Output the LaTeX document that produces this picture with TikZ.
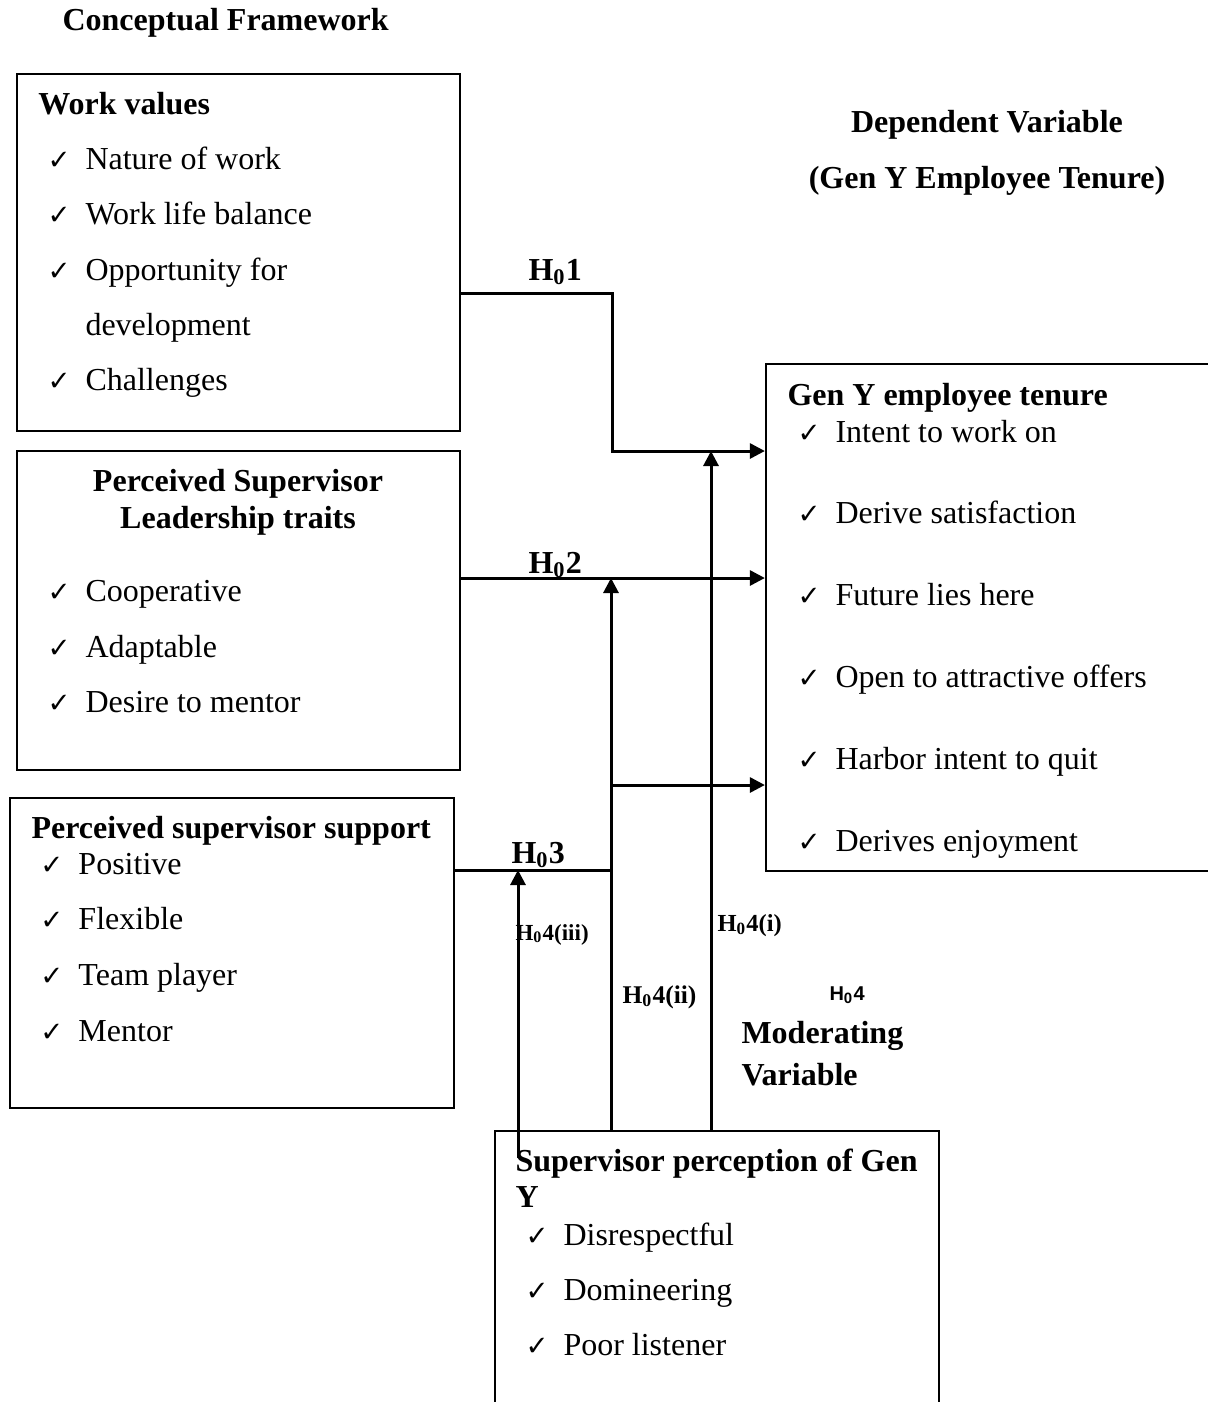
\documentclass[tikz,border=0pt]{standalone}
\usepackage{fontspec}
\setmainfont{Liberation Serif}
\newfontfamily\symfont{DejaVu Sans}
\newfontfamily\arialfont{Liberation Sans}
\usetikzlibrary{arrows.meta,positioning,fit}
\newcommand{\chk}{{\symfont\fontsize{11}{11}\selectfont ✓}}
\newcommand{\chkitem}[1]{\makebox[15.2pt][l]{\chk}#1}
\newcommand{\Hnull}[1]{H\textsubscript{0}#1}
\tikzset{
  box/.style={draw, line width=0.9pt, inner sep=0pt},
  txt/.style={anchor=base west, inner sep=0pt, font=\fontsize{12.8}{14}\selectfont},
  btxt/.style={txt, font=\fontsize{12.8}{14}\selectfont\bfseries},
  hsmall/.style={txt, font=\fontsize{10.2}{12}\selectfont\bfseries},
  arr/.style={line width=1.2pt, -{Triangle[length=6pt,width=6pt]}}
}
\begin{document}
\begin{tikzpicture}[x=0.4pt,y=-0.4pt]
  \useasboundingbox (0,0) rectangle (1208,1402);
%%
  \node[btxt] (title) at (62,30) {Conceptual Framework};
  \node[btxt, anchor=base] (dv1) at (987,132) {Dependent Variable};
  \node[btxt, anchor=base] (dv2) at (987,188) {(Gen Y Employee Tenure)};
  % Node: wv
  \node[box, fit={(17,74) (460,431)}] (wv) {};
  \node[btxt] (wvt) at (38,114) {Work values};
  \node[txt] (wv1) at (47,169) {\chkitem{Nature of work}};
  \node[txt] (wv2) at (47,224) {\chkitem{Work life balance}};
  \node[txt] (wv3) at (47,280) {\chkitem{Opportunity for}};
  \node[txt] (wv3b) at (85,335) {development};
  \node[txt] (wv4) at (47,390) {\chkitem{Challenges}};
  % Node: lt
  \node[box, fit={(17,451) (460,770)}] (lt) {};
  \node[btxt, anchor=base] (ltt) at (238,491) {Perceived Supervisor};
  \node[btxt, anchor=base] (ltt2) at (238,528) {Leadership traits};
  \node[txt] (lt1) at (47,601) {\chkitem{Cooperative}};
  \node[txt] (lt2) at (47,657) {\chkitem{Adaptable}};
  \node[txt] (lt3) at (47,712) {\chkitem{Desire to mentor}};
  % Node: ss
  \node[box, fit={(10,798) (454,1108)}] (ss) {};
  \node[btxt] (sst) at (31,838) {Perceived supervisor support};
  \node[txt] (ss1) at (40,874) {\chkitem{Positive}};
  \node[txt] (ss2) at (40,929) {\chkitem{Flexible}};
  \node[txt] (ss3) at (40,985) {\chkitem{Team player}};
  \node[txt] (ss4) at (40,1041) {\chkitem{Mentor}};
  % Node: tn
  \node[box, fit={(766,364) (1225,871)}] (tn) {};
  \node[btxt] (tnt) at (787,405) {Gen Y employee tenure};
  \node[txt] (tn1) at (797,442) {\chkitem{Intent to work on}};
  \node[txt] (tn2) at (797,523) {\chkitem{Derive satisfaction}};
  \node[txt] (tn3) at (797,605) {\chkitem{Future lies here}};
  \node[txt] (tn4) at (797,687) {\chkitem{Open to attractive offers}};
  \node[txt] (tn5) at (797,769) {\chkitem{Harbor intent to quit}};
  \node[txt] (tn6) at (797,851) {\chkitem{Derives enjoyment}};
  % Node: sp
  \node[box, fit={(495,1131) (939,1420)}] (sp) {};
  \node[btxt] (spt) at (515,1171) {Supervisor perception of Gen};
  \node[btxt] (spt2) at (515,1207) {Y};
  \node[txt] (sp1) at (525,1245) {\chkitem{Disrespectful}};
  \node[txt] (sp2) at (525,1300) {\chkitem{Domineering}};
  \node[txt] (sp3) at (525,1355) {\chkitem{Poor listener}};
  % Node: moderating
  \node[txt, font=\fontsize{8}{9}\selectfont\arialfont\bfseries] (h4) at (829,1000) {\Hnull{4}};
  \node[btxt] (mod1) at (741,1043) {Moderating};
  \node[btxt] (mod2) at (741,1085) {Variable};
%%
  \coordinate (h1) at (612,293);
  \coordinate (h1e) at (612,451);
  \coordinate (h2) at (611,578);
  \coordinate (h3) at (611,870);
  \coordinate (h3e) at (611,785);
  \coordinate (m1) at (711,451);
  \coordinate (m3) at (518,870);
  \coordinate (m3s) at (518,1158);
  % Edge: wv -> tn
  \draw[arr] (wv.east |- h1) -- (h1) |- (tn.west |- h1e);
  \node[btxt] (l1) at (528,280) {\Hnull{1}};
  % Edge: lt -> tn
  \draw[arr] (lt.east |- h2) -- (tn.west |- h2);
  \node[btxt] (l2) at (528,573) {\Hnull{2}};
  % Edge: ss -> tn
  \draw[arr] (ss.east |- h3) -- (h3) |- (tn.west |- h3e);
  \node[btxt] (l3) at (511,863) {\Hnull{3}};
  % Edge: sp -> moderation lines
  \draw[arr] (sp.north -| m1) -- (m1);
  \node[hsmall, font=\fontsize{9.8}{12}\selectfont\bfseries] (l4i) at (717,931) {\Hnull{4(i)}};
  \draw[arr] (sp.north -| h2) -- (h2);
  \node[hsmall] (l4ii) at (622,1003) {\Hnull{4(ii)}};
  \draw[arr] (m3s) -- (m3);
  \node[hsmall, font=\fontsize{9.2}{12}\selectfont\bfseries] (l4iii) at (515,940) {\Hnull{4(iii)}};
%
\end{tikzpicture}
\end{document}
